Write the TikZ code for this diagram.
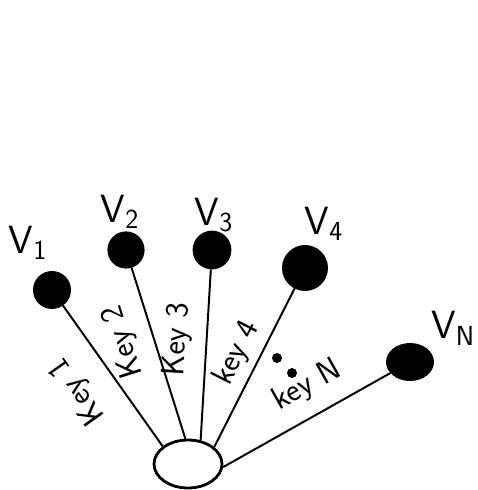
\documentclass[tikz,border=0pt]{standalone}
\usetikzlibrary{shapes.geometric}
\begin{document}
\begin{tikzpicture}[
  x=0.25mm, y=-0.25mm, line width=1.4pt,
  vertex/.style={circle, draw, fill=black, minimum size=9mm, inner sep=0pt},
  root/.style={ellipse, draw, line width=2pt, fill=white, minimum width=17mm, minimum height=12mm, inner sep=0pt},
  vlabel/.style={font=\sffamily\fontsize{28}{32}\selectfont, inner sep=0pt},
  key label/.style={font=\sffamily\fontsize{23}{27}\selectfont, sloped, allow upside down, inner sep=0pt},
  gap/.style={circle, fill=black, minimum size=2.5mm, inner sep=0pt}
]
\useasboundingbox (0,0) rectangle (478,490);

% Nodes
\node[root] (r) at (188,464) {};
\node[vertex] (v1) at (52,290) {};
\node[vertex, minimum size=8.8mm] (v2) at (126,250) {};
\node[vertex, minimum size=9.2mm] (v3) at (212,250) {};
\node[vertex, minimum size=11mm] (v4) at (305,268) {};
\node[vertex, ellipse, minimum width=11.5mm, minimum height=9mm] (vn) at (410,362) {};

\node[vlabel] (l1) at (28,243) {V\textsubscript{1}};
\node[vlabel] (l2) at (120,212) {V\textsubscript{2}};
\node[vlabel] (l3) at (214,215) {V\textsubscript{3}};
\node[vlabel] (l4) at (324,224) {V\textsubscript{4}};
\node[vlabel] (ln) at (453,328) {V\textsubscript{N}};

\node[gap] (d1) at (277,358) {};
\node[gap] (d2) at (292,373) {};

% Edges with the key on the left side
\draw (r.145) -- (v1) node[key label, pos=0.55, above=5.5mm] {Key 1};
\draw (r.96) -- (v2) node[key label, pos=0.62, above=3.6mm] {Key 2};
\draw (r.62) -- (v3) node[key label, pos=0.58, above=3.3mm] {Key 3};
\draw (r.33) -- (v4) node[key label, pos=0.53, above=1.6mm] {key 4};
\draw (r.-5) -- (vn) node[key label, pos=0.59, above=3.6mm] {key N};
\end{tikzpicture}
\end{document}
